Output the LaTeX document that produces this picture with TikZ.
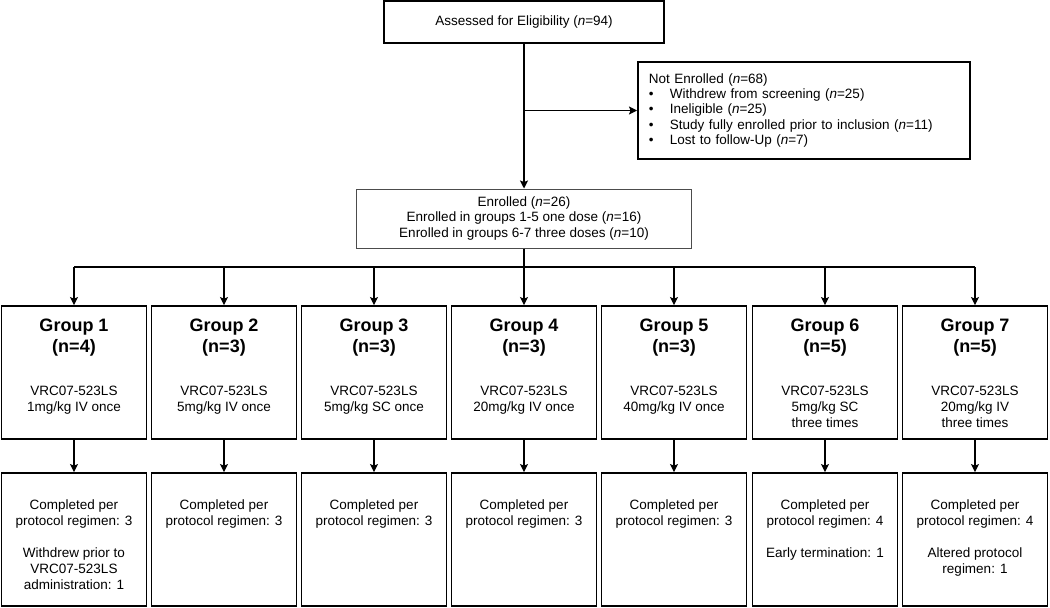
\documentclass[tikz,border=0pt]{standalone}
\usepackage{fontspec}
\setmainfont{Liberation Sans}
\usetikzlibrary{arrows.meta,positioning}
\tikzset{
        flowbox/.style = {draw=black, line width=1.8pt, inner sep=0pt, align=center,
            font=\fontsize{13.5}{16}\selectfont},
        enr_box/.style = {flowbox, draw=black!70, line width=1pt,
            font=\fontsize{13.5}{15.7}\selectfont},
        grp_box/.style = {flowbox, minimum width=145pt, minimum height=133pt},
        grp_title/.style = {inner sep=0pt, align=center,
            font=\bfseries\fontsize{18}{20.7}\selectfont},
        grp_text/.style = {inner sep=0pt, align=center,
            font=\fontsize{13.5}{16}\selectfont},
        conn/.style = {->, line width=1.2pt}
    }

\begin{document}
\begin{tikzpicture}[x=1pt,y=-1pt,>={Stealth[length=8pt,width=8pt,inset=1.5pt]}]
            \useasboundingbox (0,0) rectangle (1050,608);
            % screening
            \node [flowbox, minimum width=280pt, minimum height=42pt] (assess) at (524,22)
                {Assessed for Eligibility (\textit{n}=94)};
            \node [flowbox, anchor=west, text width=310pt, align=left, inner xsep=11pt,
                minimum height=97pt, line width=1.6pt,
                font=\fontsize{13.5}{15.25}\selectfont] (notenr) at (637,110.5)
                {Not Enrolled (\textit{n}=68)\\
                 \makebox[21pt][l]{\textbullet}Withdrew from screening (\textit{n}=25)\\
                 \makebox[21pt][l]{\textbullet}Ineligible (\textit{n}=25)\\
                 \makebox[21pt][l]{\textbullet}Study fully enrolled prior to inclusion (\textit{n}=11)\\
                 \makebox[21pt][l]{\textbullet}Lost to follow-Up (\textit{n}=7)};
            \node [enr_box, minimum width=335pt, minimum height=59pt] (enrolled) at (524,218.5)
                {Enrolled (\textit{n}=26)\\
                 Enrolled in groups 1-5 one dose (\textit{n}=16)\\
                 Enrolled in groups 6-7 three doses (\textit{n}=10)};

            % groups
            \node [grp_box] (g1) at (74,372.5) {};
            \node [grp_box] (g2) at (224,372.5) {};
            \node [grp_box] (g3) at (374,372.5) {};
            \node [grp_box] (g4) at (524,372.5) {};
            \node [grp_box] (g5) at (674,372.5) {};
            \node [grp_box] (g6) at (825,372.5) {};
            \node [grp_box] (g7) at (975,372.5) {};

            \node [grp_title, below=14pt of g1.north] (t1) {Group 1\\(n=4)};
            \node [grp_title, below=14pt of g2.north] (t2) {Group 2\\(n=3)};
            \node [grp_title, below=14pt of g3.north] (t3) {Group 3\\(n=3)};
            \node [grp_title, below=14pt of g4.north] (t4) {Group 4\\(n=3)};
            \node [grp_title, below=14pt of g5.north] (t5) {Group 5\\(n=3)};
            \node [grp_title, below=14pt of g6.north] (t6) {Group 6\\(n=5)};
            \node [grp_title, below=14pt of g7.north] (t7) {Group 7\\(n=5)};

            \node [grp_text, below=80.5pt of g1.north] (d1) {VRC07-523LS\\1mg/kg IV once};
            \node [grp_text, below=80.5pt of g2.north] (d2) {VRC07-523LS\\5mg/kg IV once};
            \node [grp_text, below=80.5pt of g3.north] (d3) {VRC07-523LS\\5mg/kg SC once};
            \node [grp_text, below=80.5pt of g4.north] (d4) {VRC07-523LS\\20mg/kg IV once};
            \node [grp_text, below=80.5pt of g5.north] (d5) {VRC07-523LS\\40mg/kg IV once};
            \node [grp_text, below=80.5pt of g6.north] (d6) {VRC07-523LS\\5mg/kg SC\\three times};
            \node [grp_text, below=80.5pt of g7.north] (d7) {VRC07-523LS\\20mg/kg IV\\three times};

            % outcomes
            \node [grp_box] (r1) at (74,539.5) {};
            \node [grp_box] (r2) at (224,539.5) {};
            \node [grp_box] (r3) at (374,539.5) {};
            \node [grp_box] (r4) at (524,539.5) {};
            \node [grp_box] (r5) at (674,539.5) {};
            \node [grp_box] (r6) at (825,539.5) {};
            \node [grp_box] (r7) at (975,539.5) {};

            \node [grp_text, below=27.5pt of r1.north] (o1) {Completed per\\protocol regimen: 3\\[16pt]
                Withdrew prior to\\VRC07-523LS\\administration: 1};
            \node [grp_text, below=27.5pt of r2.north] (o2) {Completed per\\protocol regimen: 3};
            \node [grp_text, below=27.5pt of r3.north] (o3) {Completed per\\protocol regimen: 3};
            \node [grp_text, below=27.5pt of r4.north] (o4) {Completed per\\protocol regimen: 3};
            \node [grp_text, below=27.5pt of r5.north] (o5) {Completed per\\protocol regimen: 3};
            \node [grp_text, below=27.5pt of r6.north] (o6) {Completed per\\protocol regimen: 4\\[16pt]
                Early termination: 1};
            \node [grp_text, below=27.5pt of r7.north] (o7) {Completed per\\protocol regimen: 4\\[16pt]
                Altered protocol\\regimen: 1};

            % connectors
            \coordinate (branch) at (assess.south |- notenr.west);
            \coordinate (bus) at (524,267);
            \draw [conn] (assess.south) -- (enrolled.north);
            \draw [conn] (branch) -- (notenr.west);
            \draw [conn, -] (enrolled.south) -- (bus);
            \draw [conn, -] (g1.north |- bus) -- (g7.north |- bus);
            \draw [conn] (g1.north |- bus) -- (g1.north);
            \draw [conn] (g2.north |- bus) -- (g2.north);
            \draw [conn] (g3.north |- bus) -- (g3.north);
            \draw [conn] (g4.north |- bus) -- (g4.north);
            \draw [conn] (g5.north |- bus) -- (g5.north);
            \draw [conn] (g6.north |- bus) -- (g6.north);
            \draw [conn] (g7.north |- bus) -- (g7.north);
            \draw [conn] (g1) -- (r1);
            \draw [conn] (g2) -- (r2);
            \draw [conn] (g3) -- (r3);
            \draw [conn] (g4) -- (r4);
            \draw [conn] (g5) -- (r5);
            \draw [conn] (g6) -- (r6);
            \draw [conn] (g7) -- (r7);
\end{tikzpicture}
\end{document}
